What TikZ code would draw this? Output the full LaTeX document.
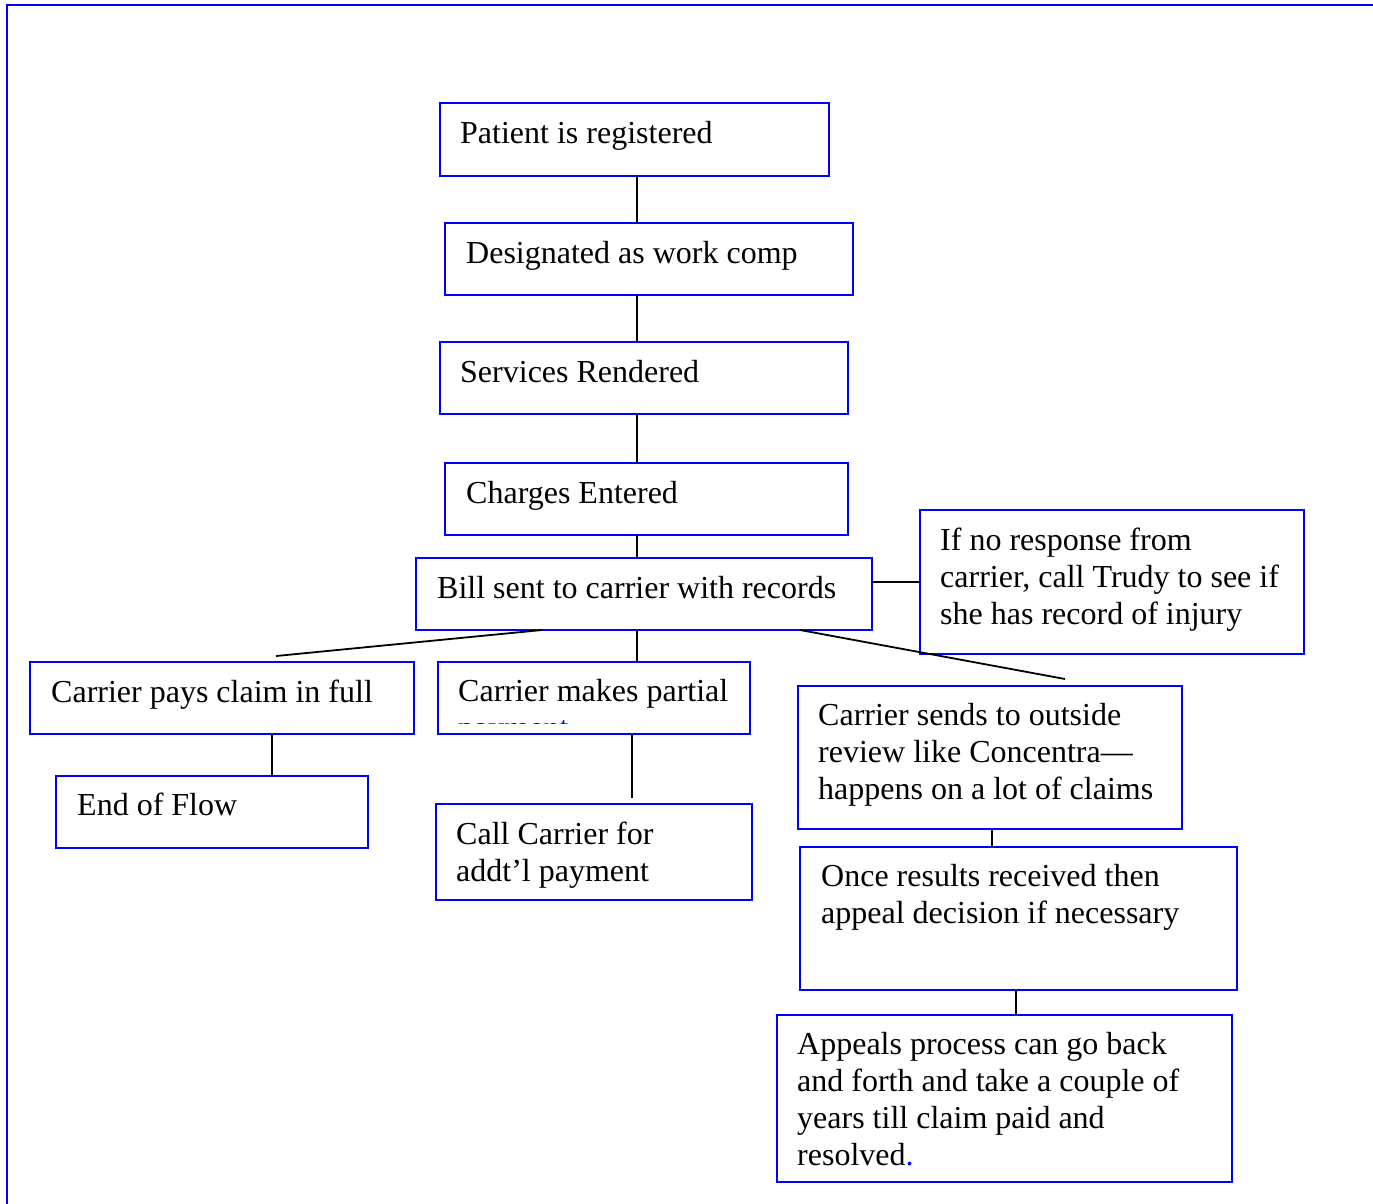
\documentclass[tikz,border=0pt]{standalone}
\usepackage{fontspec}
\setmainfont{Liberation Serif}
\begin{document}
\begin{tikzpicture}[x=1pt,y=-1pt,
  box/.style={draw=blue,line width=2.2pt,rectangle,inner sep=0pt,outer sep=0pt,anchor=north west},
  txt/.style={anchor=north west,inner sep=0pt,align=left,font=\fontsize{32}{37}\selectfont},
  conn/.style={draw=black,line width=1.8pt}]
\useasboundingbox (0,0) rectangle (1373,1203);
% frame
\draw[blue,line width=2.2pt] (7,1210) -- (7,5) -- (1380,5);
% boxes
\node[box,minimum width=389,minimum height=73] (b1) at (440,103) {};
\node[box,minimum width=408,minimum height=72] (b2) at (445,223) {};
\node[box,minimum width=408,minimum height=72] (b3) at (440,342) {};
\node[box,minimum width=403,minimum height=72] (b4) at (445,463) {};
\node[box,minimum width=456,minimum height=72] (b5) at (416,558) {};
\node[box,minimum width=384,minimum height=144] (b6) at (920,510) {};
\node[box,minimum width=384,minimum height=72] (b7) at (30,662) {};
\node[box,minimum width=312,minimum height=72] (b8) at (438,662) {};
\node[box,minimum width=384,minimum height=143] (b9) at (798,686) {};
\node[box,minimum width=312,minimum height=72] (b10) at (56,776) {};
\node[box,minimum width=316,minimum height=96] (b11) at (436,804) {};
\node[box,minimum width=437,minimum height=143] (b12) at (800,847) {};
\node[box,minimum width=455,minimum height=167] (b13) at (777,1015) {};
% texts (first baseline = top + 26)
\node[txt] (t1) at (460,117) {\strut Patient is registered};
\node[txt] (t2) at (466,237) {\strut Designated as work comp};
\node[txt] (t3) at (460,356) {\strut Services Rendered};
\node[txt] (t4) at (466,477) {\strut Charges Entered};
\node[txt] (t5) at (437,572) {\strut Bill sent to carrier with records};
\node[txt] (t6) at (940,524) {\strut If no response from\\carrier, call Trudy to see if\\she has record of injury};
\node[txt] (t7) at (51,676) {\strut Carrier pays claim in full};
\node[txt] (t8) at (458,675) {\strut Carrier makes partial};
\begin{scope}
\clip (440,716) rectangle (748,723.5);
\node[txt,text=blue] (t8b) at (458,712) {\strut payment};
\end{scope}
\node[txt] (t9) at (818,699) {\strut Carrier sends to outside\\review like Concentra—\\happens on a lot of claims};
\node[txt] (t10) at (77,789) {\strut End of Flow};
\node[txt] (t11) at (456,818) {\strut Call Carrier for\\addt’l payment};
\node[txt] (t12) at (821,860) {\strut Once results received then\\appeal decision if necessary};
\node[txt] (t13) at (797,1028) {\strut Appeals process can go back\\and forth and take a couple of\\years till claim paid and\\resolved{\color{blue}.}};
% free ends
\coordinate (e1) at (276,656);
\coordinate (e2) at (1065,679);
\coordinate (e3) at (632,798);
% connectors
\draw[conn] (637,0 |- b1.south) -- (637,0 |- b2.north);
\draw[conn] (637,0 |- b2.south) -- (637,0 |- b3.north);
\draw[conn] (637,0 |- b3.south) -- (637,0 |- b4.north);
\draw[conn] (637,0 |- b4.south) -- (637,0 |- b5.north);
\draw[conn] (b5.east |- 0,582) -- (b6.west |- 0,582);
\draw[conn] (542,0 |- b5.south) -- (e1);
\draw[conn] (637,0 |- b5.south) -- (637,0 |- b8.north);
\draw[conn] (800,0 |- b5.south) -- (e2);
\draw[conn] (272,0 |- b7.south) -- (272,0 |- b10.north);
\draw[conn] (632,0 |- b8.south) -- (e3);
\draw[conn] (992,0 |- b9.south) -- (992,0 |- b12.north);
\draw[conn] (1016,0 |- b12.south) -- (1016,0 |- b13.north);
\end{tikzpicture}
\end{document}
